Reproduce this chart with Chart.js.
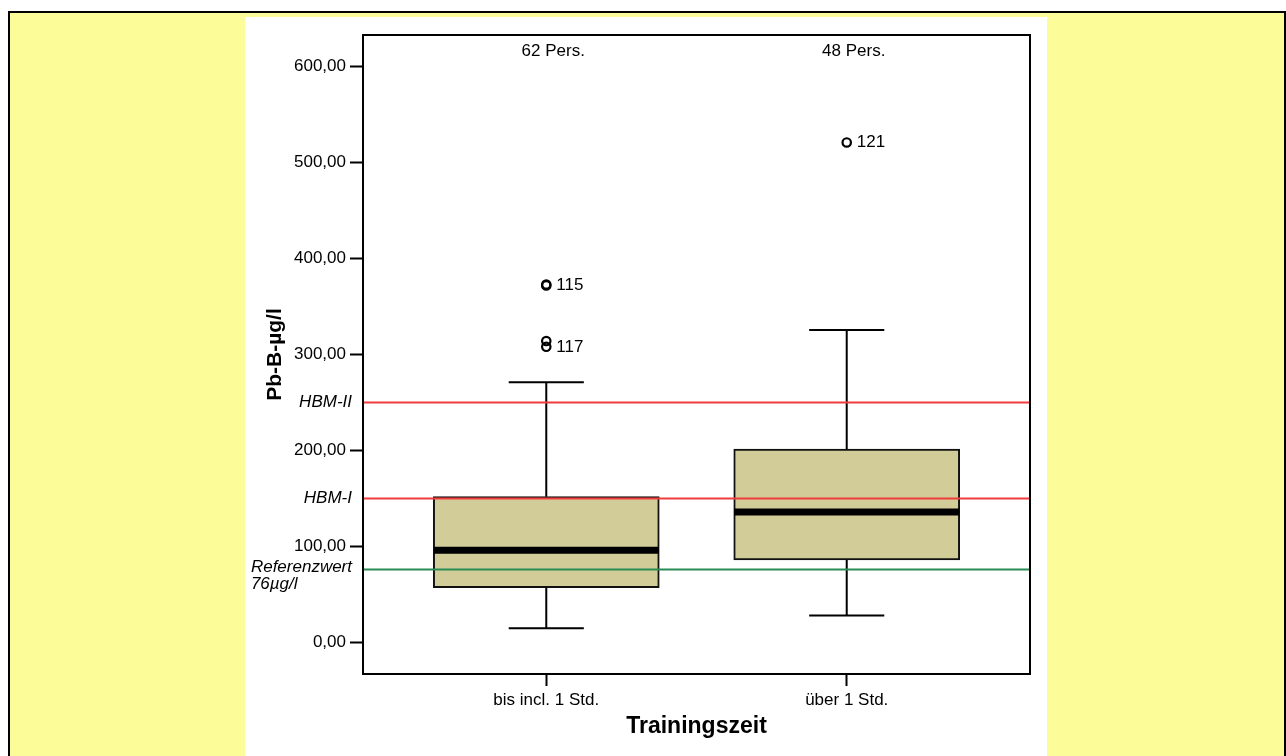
<!DOCTYPE html>
<html>
<head>
<meta charset="utf-8">
<script src="https://cdn.jsdelivr.net/npm/chart.js@4.4.1/dist/chart.umd.min.js"></script>
<style>
  html, body { margin:0; padding:0; overflow:hidden; background:#fff; width:1286px; height:756px; }
  #frame { position:absolute; left:8px; top:11px; width:1274px; height:743px; background:#FCFC99;
           border-left:2px solid #000; border-top:2px solid #000; border-right:2px solid #000; }
  #panel { position:absolute; left:245px; top:17px; width:802px; height:739px; background:#fff; }
  canvas { display:block; }
</style>
</head>
<body>
<div id="frame"></div>
<div id="panel"><canvas id="c" width="802" height="739"></canvas></div>
<script>
// ---- data ----
const categories   = ['bis incl. 1 Std.', 'über 1 Std.'];
const groupCounts  = ['62 Pers.', '48 Pers.'];
const whiskerLow   = [14.6, 28.1];
const quartile1    = [57, 85.8];
const medians      = [96, 135.8];
const quartile3    = [151.8, 201.5];
const whiskerHigh  = [271, 325.6];
const outlierValues = [[373, 372, 314, 308], [521]];
const outlierLabels = [[null, '115', null, '117'], ['121']];
const yTicks       = [0, 100, 200, 300, 400, 500, 600];
const refValues    = [250, 150, 76];
const refLabels    = ['HBM-II', 'HBM-I', ['Referenzwert', '76µg/l']];

// ---- style constants ----
const FONT = '"Liberation Sans", Arial, Helvetica, sans-serif';
const X_MIN = 0.39, X_MAX = 2.61;
const BOX_HALF = 0.375, CAP_HALF = 0.125;
const refColors = ['#F03C3C', '#F03C3C', '#2A8C55'];

Chart.defaults.font.family = FONT;
Chart.defaults.color = '#000';

const positions = categories.map((c, i) => i + 1);

// boxes (floating bars)
const boxData = positions.map((p, i) => ({ x: p, y: [quartile1[i], quartile3[i]] }));

// whiskers (line segments separated by gaps)
const whiskerData = [];
positions.forEach((p, i) => {
  whiskerData.push({x: p, y: quartile3[i]}, {x: p, y: whiskerHigh[i]}, {x: p, y: null});
  whiskerData.push({x: p - CAP_HALF, y: whiskerHigh[i]}, {x: p + CAP_HALF, y: whiskerHigh[i]}, {x: p, y: null});
  whiskerData.push({x: p, y: quartile1[i]}, {x: p, y: whiskerLow[i]}, {x: p, y: null});
  whiskerData.push({x: p - CAP_HALF, y: whiskerLow[i]}, {x: p + CAP_HALF, y: whiskerLow[i]}, {x: p, y: null});
});

// medians
const medianData = [];
positions.forEach((p, i) => {
  medianData.push({x: p - BOX_HALF, y: medians[i]}, {x: p + BOX_HALF, y: medians[i]}, {x: p, y: null});
});

// outliers
const outlierData = [];
positions.forEach((p, i) => outlierValues[i].forEach(v => outlierData.push({x: p, y: v})));

// reference lines
const refDatasets = refValues.map((v, i) => ({
  type: 'line',
  data: [{x: X_MIN, y: v}, {x: X_MAX, y: v}],
  borderColor: refColors[i],
  borderWidth: 2,
  pointRadius: 0,
  order: 1
}));

const annotPlugin = {
  id: 'annot',
  afterDatasetsDraw(chart) {
    const {ctx, chartArea: a, scales: {x, y}} = chart;
    ctx.save();
    // frame
    ctx.strokeStyle = '#000';
    ctx.lineWidth = 2;
    ctx.strokeRect(a.left, a.top, a.right - a.left, a.bottom - a.top);
    // group counts
    ctx.fillStyle = '#000';
    ctx.font = '17px ' + FONT;
    ctx.textAlign = 'center';
    ctx.textBaseline = 'middle';
    positions.forEach((p, i) => ctx.fillText(groupCounts[i], x.getPixelForValue(p) + 7, a.top + 16));
    // outlier labels
    ctx.textAlign = 'left';
    positions.forEach((p, i) => outlierValues[i].forEach((v, j) => {
      const lab = outlierLabels[i][j];
      if (lab) ctx.fillText(lab, x.getPixelForValue(p) + 10, y.getPixelForValue(v));
    }));
    // reference labels
    ctx.font = 'italic 17px ' + FONT;
    const rx = a.left - 11;
    refValues.forEach((v, i) => {
      const py = y.getPixelForValue(v);
      const lab = refLabels[i];
      if (Array.isArray(lab)) {
        ctx.textAlign = 'right';
        const w = ctx.measureText(lab[0]).width;
        ctx.fillText(lab[0], rx, py - 2);
        ctx.textAlign = 'left';
        ctx.fillText(lab[1], rx - w, py + 15);
      } else {
        ctx.textAlign = 'right';
        ctx.fillText(lab, rx, py - 0.5);
      }
    });
    ctx.restore();
  }
};

new Chart(document.getElementById('c'), {
  type: 'bar',
  data: {
    datasets: [
      {
        type: 'bar',
        data: boxData,
        backgroundColor: '#D2CD98',
        borderColor: '#111',
        borderWidth: 2,
        borderSkipped: false,
        barThickness: 226,
        grouped: false,
        order: 5
      },
      {
        type: 'line',
        data: whiskerData,
        borderColor: '#000',
        borderWidth: 2,
        pointRadius: 0,
        spanGaps: false,
        tension: 0,
        order: 4
      },
      {
        type: 'line',
        data: medianData,
        borderColor: '#000',
        borderWidth: 7,
        pointRadius: 0,
        spanGaps: false,
        order: 3
      },
      {
        type: 'line',
        data: outlierData,
        showLine: false,
        pointStyle: 'circle',
        pointRadius: 4.2,
        pointBorderWidth: 2.2,
        pointBorderColor: '#000',
        pointBackgroundColor: 'rgba(0,0,0,0)',
        order: 2
      },
      ...refDatasets
    ]
  },
  options: {
    responsive: false,
    animation: false,
    events: [],
    layout: { padding: { left: 0, top: 18, right: 17, bottom: 0 } },
    plugins: { legend: { display: false }, tooltip: { enabled: false } },
    scales: {
      x: {
        type: 'linear',
        min: X_MIN, max: X_MAX,
        offset: false,
        afterBuildTicks: s => { s.ticks = positions.map(v => ({ value: v })); },
        afterFit: s => { s.height = 82; },
        ticks: {
          font: { size: 17 },
          color: '#000',
          padding: 4,
          maxRotation: 0,
          autoSkip: false,
          callback: v => categories[Math.round(v) - 1]
        },
        grid: { display: true, offset: false, drawOnChartArea: false, drawTicks: true, tickLength: 12, tickWidth: 2, tickColor: '#000', color: '#000' },
        border: { display: false },
        title: { display: true, text: 'Trainingszeit', font: { size: 23, weight: 'bold' }, color: '#000', padding: { top: 0, bottom: 16 } }
      },
      y: {
        type: 'linear',
        min: -33, max: 633,
        afterBuildTicks: s => { s.ticks = yTicks.map(v => ({ value: v })); },
        afterFit: s => { s.width = 118; },
        ticks: {
          font: { size: 17 },
          color: '#000',
          padding: 4,
          autoSkip: false,
          callback: v => v.toFixed(2).replace('.', ',')
        },
        grid: { display: true, drawOnChartArea: false, drawTicks: true, tickLength: 13, tickWidth: 2, tickColor: '#000', color: '#000' },
        border: { display: false },
        title: { display: true, text: 'Pb-B-µg/l', font: { size: 21, weight: 'bold' }, color: '#000', padding: { top: 18, bottom: 0 } }
      }
    }
  },
  plugins: [annotPlugin]
});
</script>
</body>
</html>
